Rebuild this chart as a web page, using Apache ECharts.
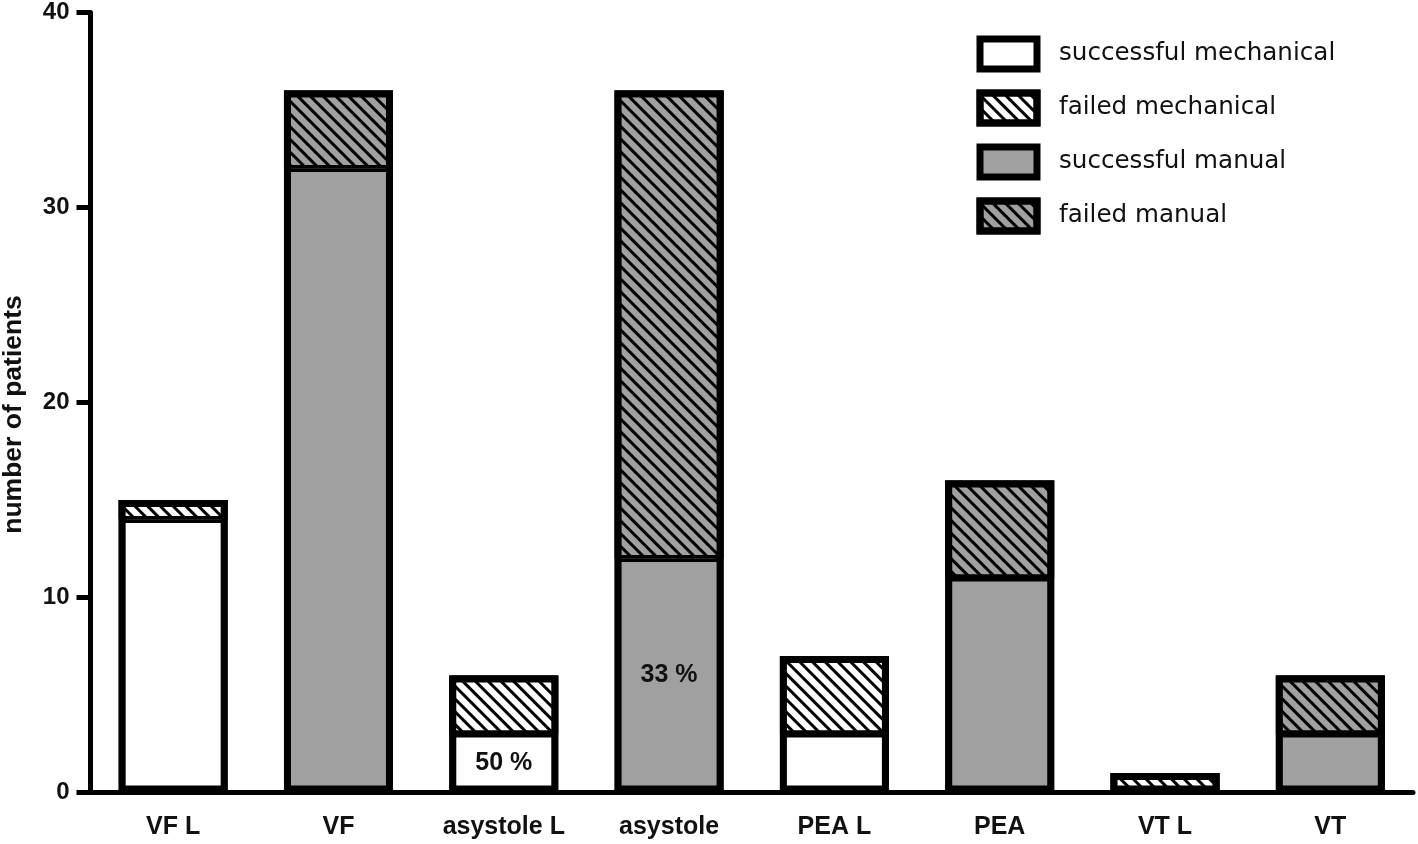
<!DOCTYPE html>
<html>
<head>
<meta charset="utf-8">
<script src="https://cdn.jsdelivr.net/npm/echarts@6/dist/echarts.min.js"></script>
<style>html,body{margin:0;padding:0;background:#fff}#c{width:1418px;height:844px}</style>
</head>
<body>
<div id="c"></div>
<script>
var categories = ['VF L', 'VF', 'asystole L', 'asystole', 'PEA L', 'PEA', 'VT L', 'VT'];
var successfulMechanical = [14, null, 3, null, 3, null, 0, null];
var failedMechanical = [1, null, 3, null, 4, null, 1, null];
var successfulManual = [null, 32, null, 12, null, 11, null, 3];
var failedManual = [null, 4, null, 24, null, 5, null, 3];
var percentLabels = [null, null, '50 %', '33 %', null, null, null, null];
var yTicks = [0, 10, 20, 30, 40];

var totals = categories.map(function (c, i) {
  return [successfulMechanical, failedMechanical, successfulManual, failedManual]
    .reduce(function (s, a) { return s + (a[i] == null ? 0 : a[i]); }, 0);
});

var GRAY = '#a0a0a0';
var BW = 7;
var BAR_W = 109;
function hatch() {
  return { symbol: 'rect', symbolSize: 1, dashArrayX: [1, 0], dashArrayY: [2.2, 5.6], rotation: Math.PI / 4, color: '#000' };
}
function withLabels(arr) {
  return arr.map(function (v, i) {
    if (percentLabels[i] && v != null) {
      return { value: v, label: { show: true, formatter: percentLabels[i] } };
    }
    return v;
  });
}
var labelStyle = { position: 'inside', color: '#111', fontFamily: 'Liberation Sans, Arial', fontWeight: 'bold', fontSize: 25 };
function series(name, data, color, decal, labeled) {
  return {
    name: name, type: 'bar', stack: 'total', barWidth: BAR_W, barGap: '-100%',
    data: labeled ? withLabels(data) : data,
    itemStyle: { color: color, borderColor: '#000', borderWidth: BW / 2, decal: decal },
    label: labelStyle,
    emphasis: { disabled: true }
  };
}
var chart = echarts.init(document.getElementById('c'), null, { renderer: 'canvas' });
chart.setOption({
  animation: false,
  aria: { enabled: false },
  grid: { left: 90.5, right: 5, top: 12.5, bottom: 51.5, containLabel: false, outerBoundsMode: 'none' },
  legend: {
    orient: 'vertical', left: 976.5, top: 35.5, icon: 'rect', padding: 0,
    itemWidth: 57, itemHeight: 30, itemGap: 17,
    itemStyle: { borderColor: '#000', borderWidth: BW },
    textStyle: { fontFamily: 'DejaVu Sans', fontSize: 24.6, color: '#111', padding: [0, 0, 0, 17] },
    selectedMode: false,
    data: ['successful mechanical', 'failed mechanical', 'successful manual', 'failed manual']
  },
  xAxis: {
    type: 'category', data: categories,
    axisLine: { lineStyle: { color: '#000', width: 5 } },
    axisTick: { alignWithLabel: true, length: 14, lineStyle: { color: '#000', width: 5 } },
    axisLabel: { color: '#111', fontFamily: 'Liberation Sans, Arial', fontWeight: 'bold', fontSize: 25, margin: 22 }
  },
  yAxis: {
    type: 'value', min: yTicks[0], max: yTicks[yTicks.length - 1], interval: 10,
    name: 'number of patients', nameLocation: 'middle', nameGap: 63,
    nameTextStyle: { color: '#111', fontFamily: 'Liberation Sans, Arial', fontWeight: 'bold', fontSize: 26.5, padding: [0, 24, 0, 0] },
    axisLine: { show: true, lineStyle: { color: '#000', width: 5 } },
    axisTick: { show: true, length: 14, lineStyle: { color: '#000', width: 5 } },
    splitLine: { show: false },
    axisLabel: { color: '#111', fontFamily: 'Liberation Sans, Arial', fontWeight: 'bold', fontSize: 24, margin: 21 }
  },
  series: [
    series('successful mechanical', successfulMechanical, '#fff', null, true),
    series('failed mechanical', failedMechanical, '#fff', hatch(), false),
    series('successful manual', successfulManual, GRAY, null, true),
    series('failed manual', failedManual, GRAY, hatch(), false),
    {
      name: 'outline', type: 'bar', barWidth: BAR_W, barGap: '-100%', silent: true, z: 3,
      data: totals,
      itemStyle: { color: 'rgba(0,0,0,0)', borderColor: '#000', borderWidth: BW },
      emphasis: { disabled: true }
    }
  ]
});
</script>
</body>
</html>
